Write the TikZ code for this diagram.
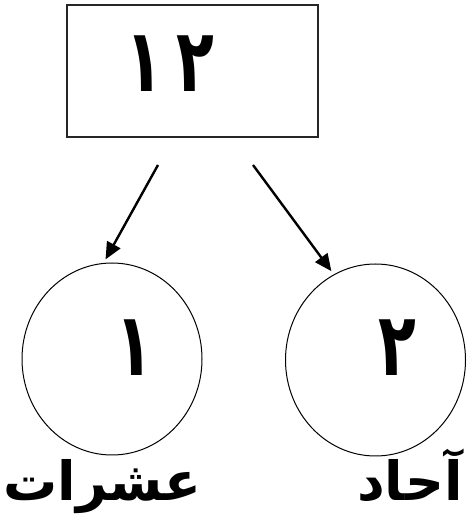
\documentclass[tikz,border=0pt]{standalone}
\usepackage{fontspec}
\newfontfamily\arabicfont[Script=Arabic]{DejaVu Sans}
\TeXXeTstate=1
\usetikzlibrary{shapes.geometric, arrows.meta, positioning}
\newcommand{\tallnum}[1]{\scalebox{0.86}[1.22]{#1}}

\begin{document}
\begin{tikzpicture}[x=1pt, y=1pt,
    numbox/.style={draw=black!85, line width=1.8pt, minimum width=251pt, minimum height=132pt, inner sep=0pt},
    digit/.style={font=\arabicfont\bfseries\fontsize{72}{80}\selectfont, inner sep=0pt},
    place/.style={draw, ellipse, line width=1pt, minimum width=180pt, minimum height=192pt, inner sep=0pt},
    word/.style={font=\arabicfont\bfseries\fontsize{54}{60}\selectfont, inner sep=0pt, anchor=base},
    arrow/.style={-{Triangle[length=17pt, width=15pt]}, line width=2.4pt, shorten >=4pt},
]
\useasboundingbox (0,0) rectangle (472,527);

% Number box
\node[numbox] (box) at (192.5,456) {};
\node[digit] (num) at (170,463) {\tallnum{١\hspace{16pt}٢}};

% Tens and ones
\node[place] (tens) at (112,168) {};
\node[place] (ones) at (375.5,167) {};
\node[digit] (d1) at (134.5,179.5) {\tallnum{١}};
\node[digit] (d2) at (397,179.5) {\tallnum{٢}};

% Labels
\node[word] (tenslabel) at (102.5,27) {\beginR عشرات\endR};
\node[word] (oneslabel) at (410,27) {\beginR آحاد\endR};

% Arrows
\coordinate (s1) at (158,362);
\coordinate (s2) at (253,362);
\draw[arrow] (s1) -- (tens.95);
\draw[arrow] (s2) -- (ones.116);

\end{tikzpicture}
\end{document}
